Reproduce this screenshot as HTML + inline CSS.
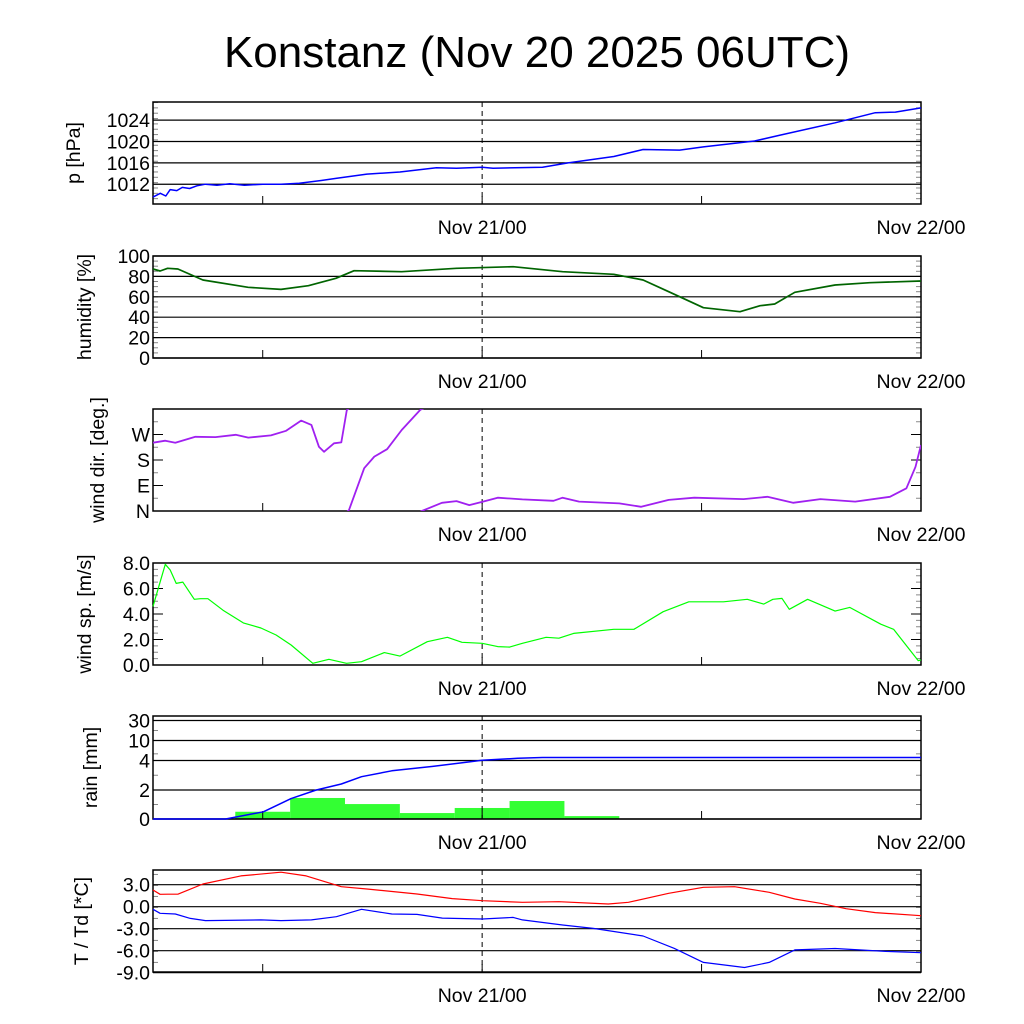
<!DOCTYPE html>
<html><head><meta charset="utf-8"><style>
body{margin:0;background:#fff}
svg{display:block;font-family:"Liberation Sans",sans-serif}
</style></head><body>
<svg id="c" width="1024" height="1024" viewBox="0 0 1024 1024">
<text x="537" y="67" font-size="44" text-anchor="middle">Konstanz (Nov 20 2025 06UTC)</text>
</svg>
<script>
// hours since Nov 20 06UTC
const pH=[0,0.4,0.7,0.94,1.3,1.6,2.0,2.4,2.87,3.5,4.2,5,6,7.0,8,9.2,10,11.7,13.5,15.5,16.6,18,18.6,21.3,22.7,25.2,26.8,28.8,30.1,32.9,34.3,37.3,39.5,40.6,42];
const pV=[1009.6,1010.3,1009.8,1011,1010.8,1011.4,1011.2,1011.7,1012,1011.8,1012.1,1011.8,1012,1012,1012.2,1012.7,1013.1,1013.9,1014.3,1015.1,1015,1015.2,1015,1015.2,1016,1017.2,1018.5,1018.4,1019,1020.1,1021.2,1023.5,1025.4,1025.5,1026.3];
const hH=[0,0.39,0.8,1.36,2.73,5.2,7,8.5,10,11,13.6,16.6,19.7,22.4,25.2,26.8,28.2,30.1,32.1,33.2,34,35.1,37.3,39.2,42];
const hV=[87.3,85.3,87.9,87.3,76.5,69.3,67.3,70.9,78.1,85.6,84.6,87.9,89.5,84.6,82.1,76.5,65,49.3,45.4,51.3,52.9,64.4,71.6,73.8,75.5];
const dH=[0,0.67,1.22,2.32,3.42,4.52,5.21,6.45,7.28,8.1,8.66,9.07,9.35,9.9,10.3,10.6,10.72,11.55,12.1,12.8,13.6,14.6,14.7,15.8,16.6,17.3,18,18.85,20.2,21.9,22.4,23.3,25.5,26.7,28.2,29.6,32.3,33.6,35,36.5,38.4,40.3,41.2,41.7,42];
const dV=[241,248,241,262,261,269,259,267,283,319,304,227,209,239,242,356,363.5,511,552,578,646,716,720,749,755,741,752,767,761,756,767,753,747,735,759,767,762,770,749,762,753,770,800,876,953];
const sH=[0,0.39,0.67,0.94,1.27,1.63,2.26,2.6,3.0,3.83,4.94,5.9,6.73,7.55,8.74,9.62,10.58,11.4,12.65,13.5,15,16.1,16.9,18,18.85,19.5,20.2,21.5,22.2,23,25.2,26.3,27.9,29.3,31.2,32.5,33.4,33.9,34.4,34.8,35.8,37.3,38.1,39.8,40.5,41.85,42];
const sV=[4.6,6.5,7.9,7.45,6.4,6.5,5.15,5.2,5.2,4.3,3.3,2.9,2.35,1.57,0.13,0.45,0.13,0.26,0.97,0.7,1.83,2.17,1.78,1.7,1.44,1.4,1.7,2.17,2.1,2.48,2.8,2.8,4.18,4.96,4.96,5.15,4.78,5.15,5.22,4.37,5.15,4.23,4.52,3.2,2.8,0.34,0.4];
const rH=[0,3.97,6.04,7.55,8.93,10.3,11.4,13.06,15.3,18,19.95,21.3,42];
const rV=[0,0,0.5,1.41,2.0,2.41,2.9,3.3,3.6,4.05,4.65,4.9,4.9];
const barStart=[4.5,7.5,10.5,13.5,16.5,19.5,22.5];
const barV=[0.5,1.45,1.03,0.41,0.76,1.24,0.2];
const tH=[0,0.39,0.8,1.36,2.73,4.8,7,8.38,10.3,11.7,14.44,16.37,18.02,20.2,22.2,24.9,26,28.2,30.1,31.8,33.7,35.1,36.5,37.9,39.5,42];
const tV=[2.28,1.69,1.7,1.7,3.1,4.2,4.7,4.2,2.73,2.41,1.73,1.1,0.82,0.6,0.68,0.37,0.6,1.83,2.64,2.73,1.96,1.05,0.46,-0.27,-0.8,-1.23];
const tdH=[0,0.39,1.22,2.04,2.87,5.9,7,8.66,10.03,11.4,13.06,14.44,15.82,18.02,19.7,20.2,22.4,24.08,26.8,28.5,30.1,32.35,33.7,35.1,37.3,40.06,42];
const tdV=[-0.35,-0.9,-1,-1.6,-1.9,-1.8,-1.9,-1.8,-1.36,-0.35,-1,-1.05,-1.55,-1.68,-1.46,-1.8,-2.5,-2.96,-4,-5.68,-7.6,-8.3,-7.6,-5.9,-5.7,-6.1,-6.28];
const pTicks=[1012,1016,1020,1024], hTicks=[0,20,40,60,80,100], dTicks=[0,90,180,270], dLabels=['N','E','S','W'];
const sTicks=[0,2,4,6,8], rTicks=[0,2,4,10,30], rMinor=[1,3,6,20], tTicks=[-9,-6,-3,0,3];

const NS='http://www.w3.org/2000/svg', svg=document.getElementById('c');
const L=153,R=921,FS=19.5;
const X=h=>L+h*(R-L)/42;
function mk(t,a,p){const e=document.createElementNS(NS,t);for(const k in a)e.setAttribute(k,a[k]);(p||svg).appendChild(e);return e;}
function panel(name,top,bot,lin,min,max,ticks,labels,minorStep,title,titleX,grid,minorList){
  const g=mk('g',{});
  
  
  const Y=lin||(v=>bot-(v-min)*(bot-top)/(max-min));
  let minors=minorList||[];
  if(!minorList&&minorStep){for(let v=min;v<=max+1e-9;v+=minorStep)minors.push(v);}
  minors.forEach(v=>{const y=Y(v);if(y<top-0.5||y>bot+0.5)return;
    mk('line',{x1:L,x2:L+5,y1:y,y2:y,stroke:'#888','stroke-width':1},g);mk('line',{x1:R-5,x2:R,y1:y,y2:y,stroke:'#888','stroke-width':1},g);});
  ticks.forEach((v,i)=>{const y=Y(v);
    if(grid) mk('line',{x1:L,x2:R,y1:y,y2:y,stroke:'#000','stroke-width':1.2},g);
    else {mk('line',{x1:L,x2:L+10,y1:y,y2:y,stroke:'#000'},g);mk('line',{x1:R-10,x2:R,y1:y,y2:y,stroke:'#000'},g);}
    const t=mk('text',{x:L-3,y:y+7,'font-size':FS,'text-anchor':'end'},g);t.textContent=labels?labels[i]:v;
    
    
  });
  mk('line',{x1:X(18),x2:X(18),y1:top,y2:bot,stroke:'#000','stroke-dasharray':'5,4'},g);
  [6,18,30].forEach(h=>mk('line',{x1:X(h),x2:X(h),y1:bot-8,y2:bot,stroke:'#000'},g));
  mk('rect',{x:L,y:top,width:R-L,height:bot-top,fill:'none',stroke:'#000','stroke-width':1.5},g);
  [[18,'Nov 21/00'],[42,'Nov 22/00']].forEach(([h,s])=>{const t=mk('text',{x:X(h),y:bot+30,'font-size':FS,'text-anchor':'middle'},g);t.textContent=s;
    
    });
  const yt=mk('text',{x:titleX,y:(top+bot)/2,'font-size':FS,'text-anchor':'middle',transform:`rotate(-90 ${titleX} ${(top+bot)/2})`},g);
  yt.textContent=title;
  
  
  return {g,Y,top,bot};
}
function line(P,hs,vs,color,w,name,off){
  const d=hs.map((h,i)=>(i?'L':'M')+X(h).toFixed(1)+','+P.Y(vs[i]-(off||0)).toFixed(1)).join('');
  const e=mk('path',{d,fill:'none',stroke:color,'stroke-width':w,'stroke-linejoin':'round'},P.g);
  
  
  return e;
}
const P1=panel('pressure',102,204,null,1008.3,1027.4,pTicks,null,1,'p [hPa]',80,true);
line(P1,pH,pV,'#0000ff',1.5,'pressure-line');
const P2=panel('humidity',256,358,null,0,100,hTicks,null,5,'humidity [%]',91,true);
line(P2,hH,hV,'#006400',1.7,'humidity-line');
const P3=panel('wind-direction',409,511,null,0,360,dTicks,dLabels,45,'wind dir. [deg.]',104,false);
const cp=mk('clipPath',{id:'clipd'},svg);mk('rect',{x:L,y:409,width:R-L,height:102},cp);
const dg=mk('g',{'clip-path':'url(#clipd)'},P3.g);
[0,360,720].forEach(o=>{const e=line(P3,dH,dV,'#a020f0',1.8,'wind-direction-line',o);dg.appendChild(e);});
const P4=panel('wind-speed',563,665,null,0,8,sTicks,['0.0','2.0','4.0','6.0','8.0'],0.5,'wind sp. [m/s]',91,false);
line(P4,sH,sV,'#00ff00',1.2,'wind-speed-line');
const rv=[0,2,4,10,30,40], ry=[819,790,760.5,740.5,720.5,716];
const rY=v=>{for(let i=0;i<rv.length-1;i++){if(v<=rv[i+1])return ry[i]+(v-rv[i])*(ry[i+1]-ry[i])/(rv[i+1]-rv[i]);}return 716;};
const P5=panel('rain',716,819,rY,0,40,rTicks,null,0,'rain [mm]',97,true,rMinor);
barStart.forEach((h,i)=>{const b=mk('rect',{x:X(h),y:rY(barV[i]),width:X(h+3)-X(h),height:819-rY(barV[i]),fill:'#33ff33'},P5.g);
  
  
  P5.g.insertBefore(b,P5.g.firstChild);});
line(P5,rH,rV,'#0000ff',1.5,'rain-accumulated-line');
const tYf=v=>906.7-v*7.33;
const P6=panel('temperature',870,972,tYf,-9.1,4.9,tTicks,['-9.0','-6.0','-3.0','0.0','3.0'],1.5,'T / Td [*C]',88,true);
line(P6,tH,tV,'#ff0000',1.2,'temperature-line');
line(P6,tdH,tdV,'#0000ff',1.2,'dewpoint-line');
</script>
</body></html>
